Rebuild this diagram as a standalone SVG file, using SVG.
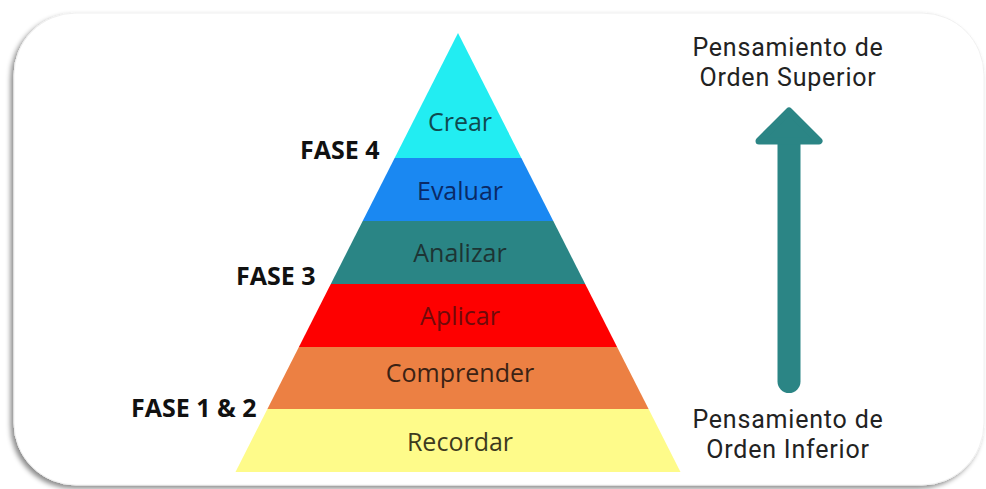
<svg xmlns="http://www.w3.org/2000/svg" width="986" height="489" viewBox="0 0 986 489">
  <defs>
    <filter id="shadow" x="-5%" y="-5%" width="110%" height="112%">
      <feDropShadow dx="-3" dy="3" stdDeviation="2.5" flood-color="#000" flood-opacity="0.45"/>
    </filter>
    <style>
      .lvl { font-family: "Open Sans", "Noto Sans", sans-serif; font-size: 25px; text-anchor: middle; }
      .fase { font-family: "Open Sans", "Noto Sans", sans-serif; font-size: 25px; font-weight: 700; fill: #111; }
      .side { font-family: Roboto, "Open Sans", sans-serif; font-size: 25px; letter-spacing: 0.8px; text-anchor: middle; fill: #222; }
      .arrow { fill: #2B8585; }
    </style>
  </defs>
  <rect width="986" height="489" fill="#ffffff"/>
  <rect id="card" x="14" y="13" width="970" height="472" rx="62" ry="62" fill="#ffffff" stroke="#f0f0f0" stroke-width="1" filter="url(#shadow)"/>

  <g id="crear">
    <polygon points="458,33 521.35,158 394.65,158" fill="#22EDF2"/>
    <text class="lvl" x="460" y="131" fill="#0f4a50">Crear</text>
  </g>
  <g id="evaluar">
    <polygon points="394.65,158 521.35,158 553.3,221 362.7,221" fill="#1A88F2"/>
    <text class="lvl" x="460" y="200" fill="#0a2a66">Evaluar</text>
  </g>
  <g id="analizar">
    <polygon points="362.7,221 553.3,221 585.2,284 330.8,284" fill="#2A8585"/>
    <text class="lvl" x="460" y="262" fill="#1d3434">Analizar</text>
  </g>
  <g id="aplicar">
    <polygon points="330.8,284 585.2,284 617.1,347 298.9,347" fill="#FE0000"/>
    <text class="lvl" x="460" y="325" fill="#700a0a">Aplicar</text>
  </g>
  <g id="comprender">
    <polygon points="298.9,347 617.1,347 648.6,409 267.4,409" fill="#EC8043"/>
    <text class="lvl" x="460" y="382" fill="#3b2214">Comprender</text>
  </g>
  <g id="recordar">
    <polygon points="267.4,409 648.6,409 680.5,472 235.5,472" fill="#FEFB8A"/>
    <text class="lvl" x="460" y="451" fill="#3d3a1e">Recordar</text>
  </g>

  <g id="fase4"><text class="fase" x="300" y="159">FASE 4</text></g>
  <g id="fase3"><text class="fase" x="236" y="285">FASE 3</text></g>
  <g id="fase12"><text class="fase" x="131" y="417">FASE 1 &amp; 2</text></g>

  <g id="superior">
    <text class="side" x="788" y="55.5">Pensamiento de</text>
    <text class="side" x="788" y="85.5">Orden Superior</text>
  </g>
  <g id="inferior">
    <text class="side" x="788" y="427.5">Pensamiento de</text>
    <text class="side" x="788" y="457.5">Orden Inferior</text>
  </g>

  <g id="connectors">
    <path class="arrow" d="M777.5,140 V381.5 A11.5,11.5 0 0 0 800.5,381.5 V140 Z"/>
    <polygon class="arrow" points="789,111 819,141 759,141" stroke="#2B8585" stroke-width="7" stroke-linejoin="round"/>
  </g>
</svg>
